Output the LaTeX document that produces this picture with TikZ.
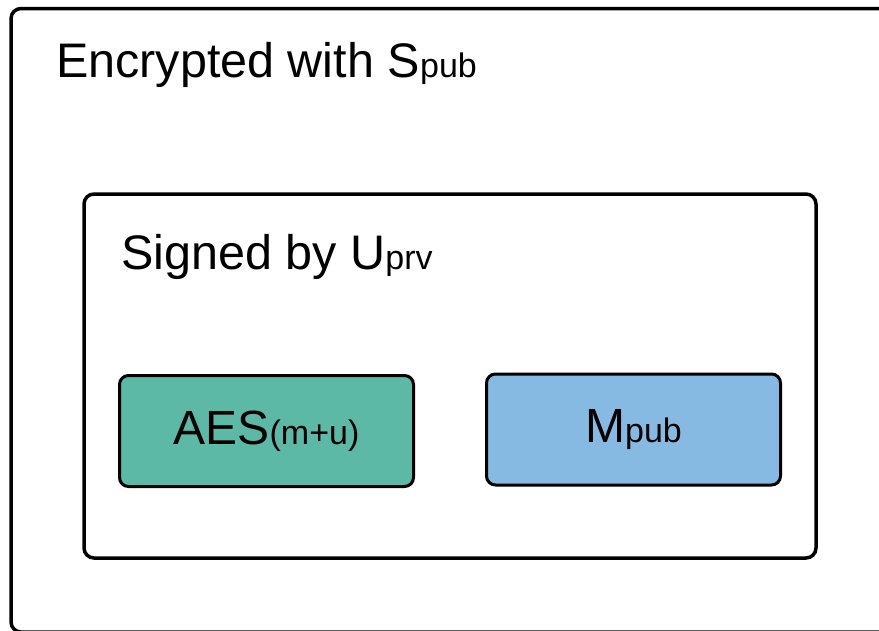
\documentclass[tikz,border=0pt]{standalone}
\usepackage{fontspec}
\setmainfont{Liberation Sans}
\definecolor{aesgreen}{HTML}{5CB9A6}
\definecolor{pubblue}{HTML}{86BAE3}
\newcommand{\subtxt}[1]{{\fontsize{34}{34}\selectfont #1}}

\begin{document}
\begin{tikzpicture}[x=1pt, y=-1pt,
    keybox/.style={draw, line width=3pt, rounded corners=9pt, minimum width=294pt, minimum height=111pt, font=\fontsize{48}{48}\selectfont},
    boxtitle/.style={anchor=base west, inner sep=0pt, font=\fontsize{48.5}{48.5}\selectfont}]
                \clip (0, 0) rectangle (879, 630);
                \draw[line width=3.5pt, rounded corners=10pt] (11, 8.5) rectangle (895, 632);
                \node[boxtitle] (enc) at (56, 77) {Encrypted with S\subtxt{pub}};
                \draw[line width=3.5pt, rounded corners=10pt] (84, 194) rectangle (816, 558);
                \node[boxtitle] (sig) at (121, 269) {Signed by U\subtxt{prv}};
                \node[keybox, fill=aesgreen] (aes) at (266.5, 431) {AES\subtxt{(m+u)}};
                \node[keybox, fill=pubblue] (mpub) at (633.5, 429.5) {M\subtxt{pub}};
            \end{tikzpicture}
\end{document}
